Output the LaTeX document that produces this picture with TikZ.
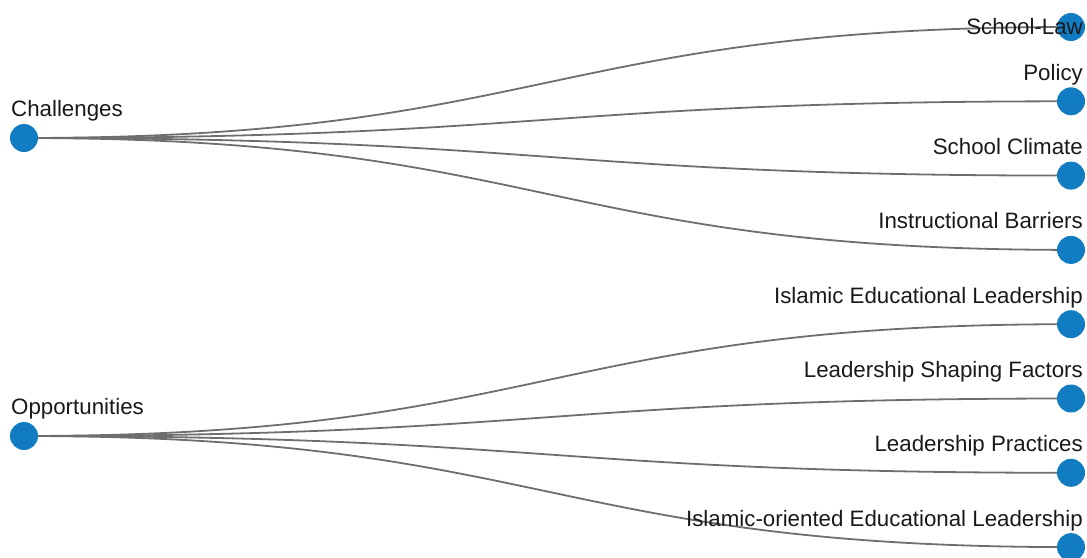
\documentclass[tikz,border=0pt]{standalone}
\usepackage{fontspec}
\setmainfont{Liberation Sans}
\definecolor{dotblue}{RGB}{17,124,193}
\definecolor{linkgray}{RGB}{110,110,110}
\tikzset{
  x=1pt,y=-1pt,
  dot/.style={circle,fill=dotblue,minimum size=28pt,inner sep=0pt},
  lbl/.style={font=\fontsize{22.3}{26}\selectfont,inner sep=0pt,text=black!90},
  link/.style={draw=linkgray,line width=1.8pt},
}
\begin{document}
\begin{tikzpicture}
\useasboundingbox (0,0) rectangle (1087,557);
% nodes
\coordinate (c) at (24,138);
\coordinate (o) at (24,436);
\foreach \n/\y in {r1/27,r2/101.3,r3/175.6,r4/249.9,r5/324.2,r6/398.5,r7/472.8,r8/547.1}{
  \coordinate (\n) at (1071,\y);
}
% links
\foreach \n in {r1,r2,r3,r4}{
  \draw[link] (c) .. controls +(523.5,0) and +(-523.5,0) .. (\n);
}
\foreach \n in {r5,r6,r7,r8}{
  \draw[link] (o) .. controls +(523.5,0) and +(-523.5,0) .. (\n);
}
% circles
\foreach \n in {c,o,r1,r2,r3,r4,r5,r6,r7,r8}{
  \node[dot] (\n dot) at (\n) {};
}
% labels
\node[lbl,anchor=base west] (lc) at (11,116) {Challenges};
\node[lbl,anchor=base west] (lo) at (11,414) {Opportunities};
\node[lbl,anchor=base east] (l1) at (1083,34) {School-Law};
\node[lbl,anchor=base east] (l2) at (1083,80.3) {Policy};
\node[lbl,anchor=base east] (l3) at (1083,154.6) {School Climate};
\node[lbl,anchor=base east] (l4) at (1083,228.9) {Instructional Barriers};
\node[lbl,anchor=base east] (l5) at (1083,303.2) {Islamic Educational Leadership};
\node[lbl,anchor=base east] (l6) at (1083,377.5) {Leadership Shaping Factors};
\node[lbl,anchor=base east] (l7) at (1083,451.8) {Leadership Practices};
\node[lbl,anchor=base east] (l8) at (1083,526.1) {Islamic-oriented Educational Leadership};
\end{tikzpicture}
\end{document}
